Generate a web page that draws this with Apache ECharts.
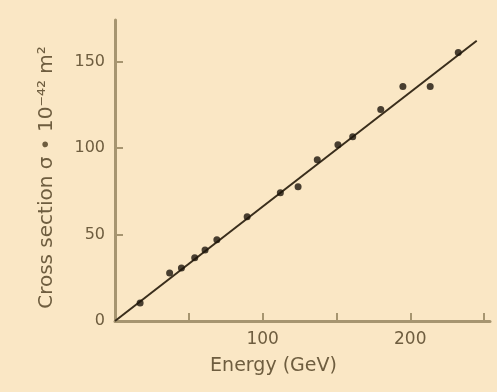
<!DOCTYPE html>
<html>
<head>
<meta charset="utf-8">
<script src="https://cdn.jsdelivr.net/npm/echarts@6/dist/echarts.min.js"></script>
<style>
html,body{margin:0;padding:0;background:#fae7c5;}
#chart{width:497px;height:392px;}
</style>
</head>
<body>
<div id="chart"></div>
<script>
// Measured data (Energy in GeV, cross section in 10^-42 m^2)
const energy = [17, 37, 45, 54, 61, 69, 89.5, 112, 124, 137, 151, 161, 180, 195, 213.5, 232.5];
const crossSection = [10.4, 27.8, 30.7, 36.5, 41.1, 46.9, 60.2, 74.1, 77.6, 93.2, 101.9, 106.5, 122.2, 135.5, 135.5, 155.2];
const fitLineX = [0, 245];
const fitLineY = [0, 162];
const yTicks = [0, 50, 100, 150];
const xTicks = [50, 100, 150, 200, 250];
const xTickLabels = [100, 200];

const points = energy.map((e, i) => [e, crossSection[i]]);
const line = fitLineX.map((x, i) => [x, fitLineY[i]]);

const axisColor = '#a69570';
const textColor = '#6e5d3f';
const font = 'DejaVu Sans, Verdana, sans-serif';

const chart = echarts.init(document.getElementById('chart'));
chart.setOption({
  backgroundColor: '#fae7c5',
  animation: false,
  grid: { left: 115, right: 7, top: 20, bottom: 71 },
  xAxis: {
    type: 'value', min: 0, max: 254,
    name: 'Energy (GeV)', nameLocation: 'middle', nameGap: 36,
    nameTextStyle: { color: textColor, fontSize: 19, fontFamily: font, padding: [0, 58, 0, 0] },
    axisLine: { lineStyle: { color: axisColor, width: 3 } },
    axisTick: { inside: true, length: 8, customValues: xTicks, lineStyle: { color: axisColor, width: 2 } },
    axisLabel: { customValues: xTickLabels, color: textColor, fontSize: 17, fontFamily: font, margin: 10 },
    splitLine: { show: false }
  },
  yAxis: {
    type: 'value', min: 0, max: 174,
    name: 'Cross section σ • 10⁻⁴² m²', nameLocation: 'middle', nameGap: 58,
    nameTextStyle: { color: textColor, fontSize: 20, fontFamily: font, padding: [0, 14, 0, 0] },
    axisLine: { lineStyle: { color: axisColor, width: 3 } },
    axisTick: { inside: true, length: 8, customValues: yTicks, lineStyle: { color: axisColor, width: 2 } },
    axisLabel: { customValues: yTicks, color: textColor, fontSize: 16, fontFamily: font, margin: 10 },
    splitLine: { show: false }
  },
  series: [
    {
      type: 'line', data: line, showSymbol: false, symbol: 'none',
      lineStyle: { color: '#3a2e1c', width: 2 }, z: 2
    },
    {
      type: 'scatter', data: points, symbol: 'circle', symbolSize: 7,
      itemStyle: { color: '#1c140a' }, z: 3
    }
  ]
});
</script>
</body>
</html>
